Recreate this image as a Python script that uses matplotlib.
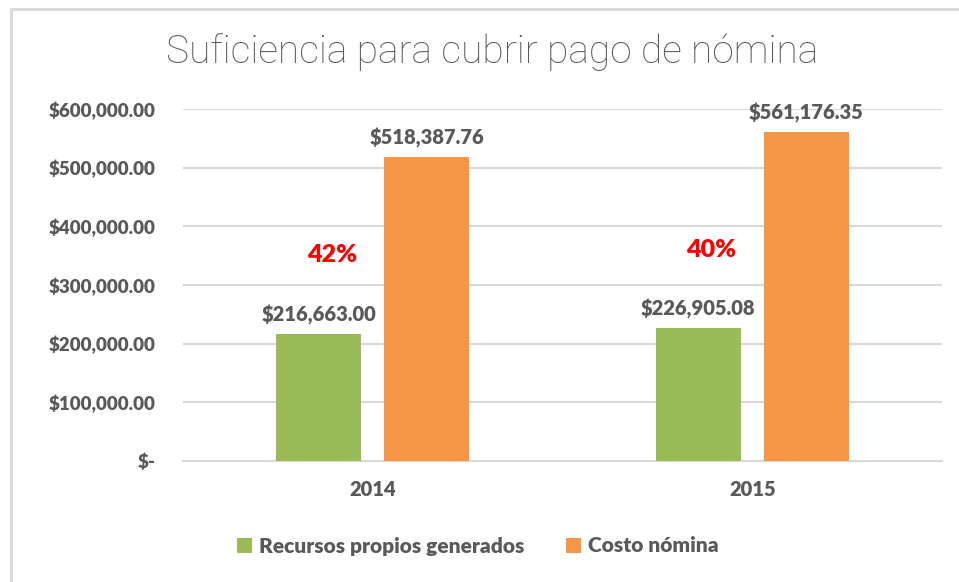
import numpy as np
import matplotlib.pyplot as plt
from matplotlib.patches import Rectangle
from matplotlib.ticker import FuncFormatter

years = ['2014', '2015']
recursos = [216663.00, 226905.08]
costo = [518387.76, 561176.35]
series_names = ['Recursos propios generados', 'Costo nómina']

GREEN = '#9bbb59'
ORANGE = '#f79646'
TEXT = '#595959'
GRID = '#d9d9d9'

plt.rcParams['font.family'] = ['Lato', 'DejaVu Sans']


def money(v, pos=None):
    if v == 0:
        return '$-'
    return f'${v:,.2f}'


def main():
    fig = plt.figure(figsize=(9.59, 5.82), dpi=100)
    ax = fig.add_axes([183 / 959, 1 - 461 / 582, 759 / 959, 352 / 582])

    xs = np.arange(len(years))
    width = 0.224
    offset = 0.142
    b1 = ax.bar(xs - offset, recursos, width, color=GREEN, label=series_names[0], zorder=3)
    b2 = ax.bar(xs + offset, costo, width, color=ORANGE, label=series_names[1], zorder=3)

    for bars in (b1, b2):
        for rect in bars:
            h = rect.get_height()
            ax.annotate(money(h), (rect.get_x() + rect.get_width() / 2, h),
                        xytext=(0, 9), textcoords='offset pixels',
                        ha='center', va='bottom', fontsize=14.5,
                        fontweight='heavy', color=TEXT)

    # share of payroll covered by own resources
    pct_y = [351000, 360000]
    for i, (r, c) in enumerate(zip(recursos, costo)):
        ax.text(xs[i] - 0.108, pct_y[i], f'{r / c:.0%}', ha='center', va='center',
                fontsize=18, fontweight='heavy', color='#ff0000')

    ax.set_xlim(-0.5, 1.5)
    ax.set_ylim(0, 600000)
    ax.set_yticks(np.arange(0, 600001, 100000))
    ax.yaxis.set_major_formatter(FuncFormatter(money))
    ax.set_xticks(xs, years)
    ax.tick_params(axis='both', length=0, labelcolor=TEXT)
    ax.tick_params(axis='y', pad=20, labelsize=13.5)
    ax.tick_params(axis='x', pad=14, labelsize=14.5)
    for lab in ax.get_xticklabels() + ax.get_yticklabels():
        lab.set_fontweight('heavy')
    ax.grid(axis='y', color=GRID, linewidth=1.5, zorder=0)
    for side in ('top', 'right', 'left'):
        ax.spines[side].set_visible(False)
    ax.spines['bottom'].set_color(GRID)
    ax.spines['bottom'].set_linewidth(1.5)

    fig.text(492 / 959, 1 - 52 / 582, 'Suficiencia para cubrir pago de nómina',
             ha='center', va='center', fontsize=28, fontweight='light',
             family=['Roboto', 'DejaVu Sans'], color=TEXT)

    fig.legend(loc='center', bbox_to_anchor=(478 / 959, 1 - 546 / 582), ncol=2,
               frameon=False, prop={'size': 15, 'weight': 'heavy'},
               labelcolor=TEXT, handlelength=0.7, handleheight=0.7,
               handletextpad=0.35, columnspacing=2.0)

    fig.patches.append(Rectangle((11 / 959, -0.1), 1.2, 1.1 - 9 / 582,
                                 transform=fig.transFigure, fill=False,
                                 edgecolor=GRID, linewidth=2))

    fig.savefig('out.png', dpi=100)


if __name__ == '__main__':
    main()
